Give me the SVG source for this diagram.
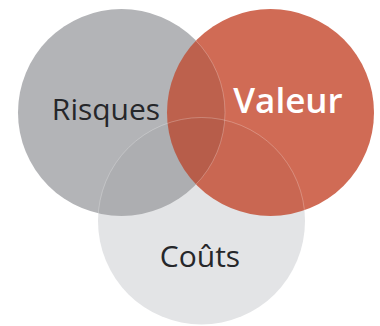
<svg xmlns="http://www.w3.org/2000/svg" width="380" height="326" viewBox="0 0 380 326">
<style>
.lbl{font-family:"Open Sans","Noto Sans","Liberation Sans",sans-serif;}
.dark{fill:#26272a;font-size:30px;}
.light{fill:#ffffff;font-size:35px;font-weight:600;}
.edge{fill:none;stroke:#ffffff;stroke-opacity:0.35;stroke-width:0.7;}
</style>
<defs>
<clipPath id="cpGray"><circle cx="121.5" cy="112.5" r="103.5"/></clipPath>
<clipPath id="cpRed"><circle cx="270.5" cy="112.5" r="103.5"/></clipPath>
<clipPath id="cpTop"><circle cx="121.5" cy="112.5" r="103.5"/><circle cx="270.5" cy="112.5" r="103.5"/></clipPath>
</defs>
<g id="node-couts">
<circle cx="201.5" cy="221" r="103.5" fill="#e3e4e6"/>
<text class="lbl dark" x="200" y="267" text-anchor="middle">Coûts</text>
</g>
<g id="node-risques">
<circle cx="121.5" cy="112.5" r="103.5" fill="#b3b4b7"/>
<text class="lbl dark" x="106" y="120" text-anchor="middle">Risques</text>
</g>
<g id="node-valeur">
<circle cx="270.5" cy="112.5" r="103.5" fill="#d06b55"/>
<text class="lbl light" x="288" y="113" text-anchor="middle">Valeur</text>
</g>
<g id="connectors">
<circle cx="270.5" cy="112.5" r="103.5" fill="#000000" fill-opacity="0.09" clip-path="url(#cpGray)"/>
<circle cx="201.5" cy="221" r="103.5" fill="#000000" fill-opacity="0.03" clip-path="url(#cpTop)"/>
<circle class="edge" cx="121.5" cy="112.5" r="103.5" clip-path="url(#cpRed)"/>
<circle class="edge" cx="201.5" cy="221" r="103.5" clip-path="url(#cpTop)"/>
</g>
</svg>
